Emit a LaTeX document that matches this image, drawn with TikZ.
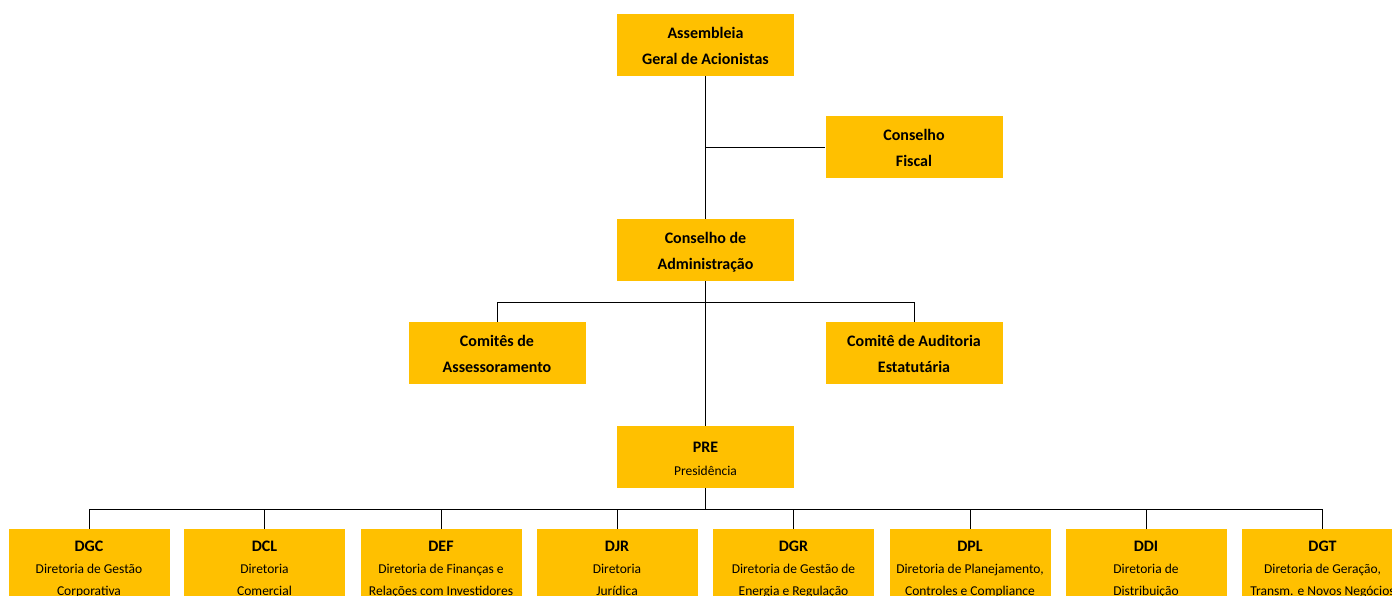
\documentclass[tikz,border=0pt]{standalone}
\usepackage{fontspec}
\setmainfont{Carlito}
\definecolor{boxgold}{HTML}{FFC000}
\tikzset{
  topbox/.style={fill=boxgold, draw=none, inner sep=0, minimum width=177pt, minimum height=62pt, anchor=north},
  dbox/.style={fill=boxgold, draw=none, inner sep=0, minimum width=161pt, minimum height=80pt, anchor=north},
  ttl/.style={anchor=base, inner sep=0, font=\bfseries\fontsize{16}{19}\selectfont},
  sub/.style={anchor=base, inner sep=0, font=\fontsize{13.5}{16}\selectfont},
  conn/.style={draw=black, line width=0.8pt}
}
\newcommand\orgbox[5]{%
  \node[topbox] (#1) at (#2,#3) {};
  \node[ttl] at ([yshift=-24pt]#1.north) {#4};
  \node[ttl] at ([yshift=-50pt]#1.north) {#5};}
\newcommand\dirbox[5]{%
  \node[dbox] (#1) at (#2,529) {};
  \node[ttl] at ([yshift=-22pt]#1.north) {#3};
  \node[sub] at ([yshift=-44pt]#1.north) {#4};
  \node[sub] at ([yshift=-66pt]#1.north) {#5};}
\begin{document}
\begin{tikzpicture}[x=1pt,y=-1pt]
\useasboundingbox (0,0) rectangle (1392,595);
\clip (0,0) rectangle (1392,595);
\fill[white] (0,0) rectangle (1392,595);

\orgbox{aga}{705.5}{14}{Assembleia}{Geral de Acionistas}
\orgbox{cf}{914}{116}{Conselho}{Fiscal}
\orgbox{ca}{705.5}{219}{Conselho de}{Administração}
\orgbox{cas}{497}{322}{Comitês de}{Assessoramento}
\orgbox{cae}{914}{322}{Comitê de Auditoria}{Estatutária}
\node[topbox] (pre) at (705.5,426) {};
\node[ttl] at ([yshift=-26pt]pre.north) {PRE};
\node[sub] at ([yshift=-49pt]pre.north) {Presidência};

\dirbox{dgc}{89}{DGC}{Diretoria de Gestão}{Corporativa}
\dirbox{dcl}{264.5}{DCL}{Diretoria}{Comercial}
\dirbox{def}{441}{DEF}{Diretoria de Finanças e}{Relações com Investidores}
\dirbox{djr}{617}{DJR}{Diretoria}{Jurídica}
\dirbox{dgr}{793.5}{DGR}{Diretoria de Gestão de}{Energia e Regulação}
\dirbox{dpl}{970}{DPL}{Diretoria de Planejamento,}{Controles e Compliance}
\dirbox{ddi}{1146}{DDI}{Diretoria de}{Distribuição}
\dirbox{dgt}{1322.5}{DGT}{Diretoria de Geração,}{Transm. e Novos Negócios}

% connectors
\draw[conn] (aga.south) -- (ca.north);
\draw[conn] (ca.south) -- (pre.north);
\draw[conn] (aga.south |- cf.west) -- (cf.west);
\draw[conn] (cas.north) -- ++(0,-20) -| (cae.north);
\draw[conn] (dgc.north) -- ++(0,-20) -| (dgt.north);
\draw[conn] (pre.south) -- (pre.south |- 0,509);
\foreach \n in {dcl,def,djr,dgr,dpl,ddi}{
  \draw[conn] (\n.north) -- ++(0,-20);
}
\end{tikzpicture}
\end{document}
